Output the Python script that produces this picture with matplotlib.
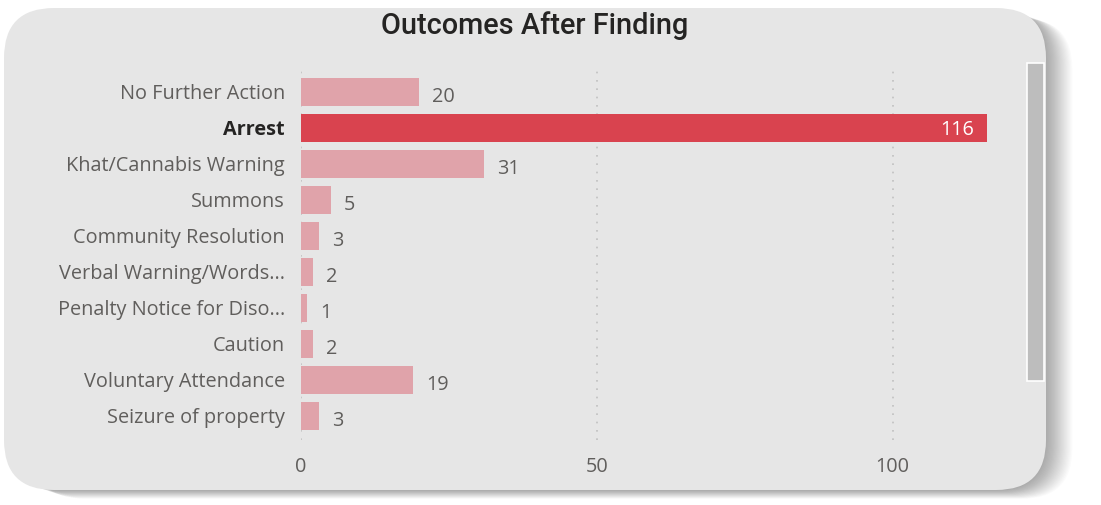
import matplotlib.pyplot as plt
from matplotlib.patches import FancyBboxPatch, Rectangle

categories = ["No Further Action", "Arrest", "Khat/Cannabis Warning", "Summons",
              "Community Resolution", "Verbal Warning/Words...", "Penalty Notice for Diso...",
              "Caution", "Voluntary Attendance", "Seizure of property"]
counts = [20, 116, 31, 5, 3, 2, 1, 2, 19, 3]
highlight = "Arrest"
xticks = [0, 50, 100]

W, H = 1101, 505
fig = plt.figure(figsize=(W / 100, H / 100), dpi=100)
fig.patch.set_facecolor("white")
plt.rcParams['font.family'] = ['Open Sans', 'DejaVu Sans']
fs = 14.3

# card + soft shadow, in pixel coords
bg = fig.add_axes([0, 0, 1, 1], zorder=0)
bg.set_xlim(0, W)
bg.set_ylim(H, 0)
bg.axis("off")
for i in range(22, 0, -1):
    bg.add_patch(FancyBboxPatch((8 + i * 1.2, 10 + i * 0.4), 1046 - 8, 490 - 10,
                                boxstyle="round,pad=0,rounding_size=50",
                                fc="black", ec="none", alpha=0.014))
bg.add_patch(FancyBboxPatch((4, 8), 1046 - 4, 490 - 8,
                            boxstyle="round,pad=0,rounding_size=50",
                            fc="#e6e6e6", ec="none"))
# scrollbar
bg.add_patch(Rectangle((1027, 63), 17, 318, fc="#bdbdbd", ec="white", lw=1.2))

bg.text(535, 26, "Outcomes After Finding", ha="center", va="center",
        fontsize=20.8, color="#252423", family=["Roboto", "DejaVu Sans"], weight="medium")

ax = fig.add_axes([301 / W, 1 - 440 / H, (1011 - 301) / W, 375 / H], zorder=1)
ax.set_facecolor("none")
ypos = list(range(len(categories)))
colors = ["#d9434f" if c == highlight else "#e0a3aa" for c in categories]
ax.barh(ypos, counts, height=0.77, color=colors)
ax.set_xlim(0, 120)
ax.set_ylim(9.67, -0.75)
ax.set_yticks(ypos)
ax.set_yticklabels(categories)
for lab in ax.get_yticklabels():
    lab.set_color("#605e5c")
    lab.set_fontsize(fs)
    if lab.get_text() == highlight:
        lab.set_color("#252423")
        lab.set_fontweight("bold")
ax.set_xticks(xticks)
ax.set_xticklabels([str(t) for t in xticks], fontsize=fs, color="#605e5c")
ax.tick_params(axis="y", length=0, pad=11.5)
ax.tick_params(axis="x", length=0, pad=12)
for s in ax.spines.values():
    s.set_visible(False)
ax.xaxis.grid(True, linestyle=(0, (1, 4)), color="#c0c0c0", lw=1.2)
ax.set_axisbelow(True)

for y, v, c in zip(ypos, counts, categories):
    if c == highlight:
        ax.text(v - 2.3, y, str(v), ha="right", va="center_baseline", color="white", fontsize=fs)
    else:
        ax.text(v + 2.2, y + 0.08, str(v), ha="left", va="center_baseline", color="#605e5c", fontsize=fs)

fig.savefig("out.png", dpi=100)
